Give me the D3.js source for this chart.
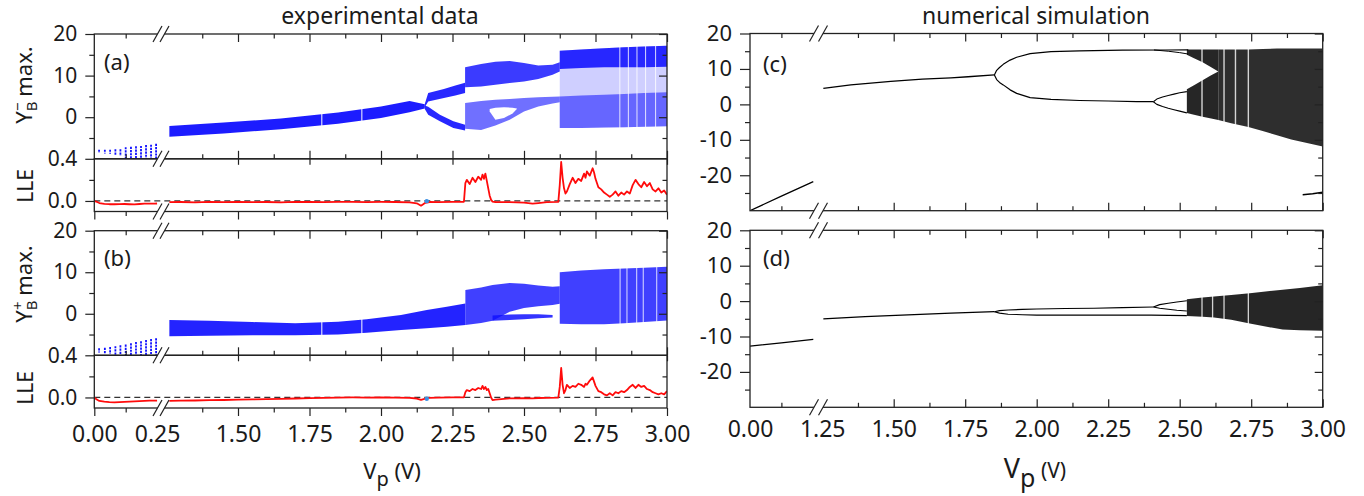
<!DOCTYPE html>
<html>
<head>
<meta charset="utf-8">
<script src="https://cdn.jsdelivr.net/npm/d3@7"></script>
<style>
  body { margin: 0; background: #fff; }
  svg text { font-family: "Noto Sans", "Open Sans", sans-serif; fill: #1a1a1a; }
</style>
</head>
<body>
<script>
// ---------- data ----------
// experimental, left segment: vertical point stacks
const dashV = [0.019, 0.042, 0.063, 0.084, 0.104, 0.125, 0.146, 0.166, 0.186, 0.206, 0.226, 0.246];
const aDashTop = [-7.8, -7.8, -7.8, -7.7, -7.7, -7.2, -7.1, -7.0, -6.9, -6.7, -6.6, -6.4];
const aDashBot = [-8.6, -8.7, -8.8, -9.0, -9.3, -10, -10, -10, -10, -10, -10, -10];
const bDashTop = [-8.3, -8.2, -8.0, -7.8, -7.6, -7.4, -7.1, -6.8, -6.6, -6.3, -6.1, -5.9];
const bDashBot = [-9.3, -9.5, -9.7, -10, -10, -10, -10, -10, -10, -10, -10, -10];

// (a) Y_B- max. bands
const aV1 = [1.26, 1.45, 1.65, 1.85, 2.00, 2.10, 2.153];
const aLo1 = [-4.7, -3.9, -2.9, -1.6, -0.2, 1.2, 2.1];
const aHi1 = [-2.1, -1.3, -0.3, 1.1, 2.6, 3.9, 3.1];
const aUpV = [2.153, 2.165, 2.22, 2.26, 2.294];
const aUpLo = [2.4, 3.8, 4.6, 5.2, 5.8];
const aUpHi = [3.2, 5.8, 6.8, 7.6, 8.3];
const aLowV = [2.153, 2.165, 2.206, 2.253, 2.294];
const aLowLo = [2.0, 0.6, -1.0, -2.6, -3.2];
const aLowHi = [2.8, 2.5, 0.6, -1.0, -1.8];
const aCloudV = [2.294, 2.35, 2.40, 2.45, 2.50, 2.55, 2.60, 2.625];
const aCloud1Top = [12.0, 12.8, 13.3, 13.5, 13.0, 12.4, 12.6, 13.2];
const aCloud1Bot = [7.2, 7.4, 7.8, 8.2, 8.6, 9.2, 10.2, 11.0];
const aCloud2Top = [3.4, 3.9, 4.2, 4.4, 4.6, 4.8, 4.9, 5.0];
const aCloud2Bot = [-2.8, -3.1, -2.0, -0.6, 1.4, 2.6, 3.3, 3.6];
const aHoleV = [2.38, 2.40, 2.43, 2.46, 2.475];
const aHoleLo = [1.4, -0.6, -0.2, 0.9, 2.0];
const aHoleHi = [2.0, 2.3, 2.4, 2.3, 2.1];
const aChaosV = [2.625, 2.70, 2.78, 2.85, 2.92, 3.00];
const aChaosTop = [16.0, 16.3, 16.6, 16.8, 17.0, 17.2];
const aChaosBandLo = [11.6, 11.8, 12.0, 12.0, 12.0, 12.1];
const aChaosBandHi = [5.0, 5.2, 5.4, 5.6, 5.8, 6.0];
const aChaosBot = [-2.6, -2.6, -2.5, -2.4, -2.3, -2.2];
const aWindows = [2.835, 2.865, 2.895, 2.925, 2.96];

// (b) Y_B+ max. bands
const bV1 = [1.26, 1.40, 1.55, 1.70, 1.85, 1.95, 2.07, 2.16, 2.23, 2.295];
const bLo1 = [-5.4, -5.3, -5.2, -5.2, -5.0, -4.6, -3.9, -3.5, -3.1, -2.7];
const bHi1 = [-1.5, -1.7, -2.0, -2.3, -1.9, -1.3, -0.3, 0.9, 1.7, 2.5];
const bUpV = [2.295, 2.35, 2.39, 2.45, 2.50, 2.55, 2.60, 2.625];
const bUpTop = [5.7, 6.3, 6.9, 7.4, 7.2, 6.8, 6.5, 6.6];
const bUpBot = [-2.7, -2.2, -1.7, 0.5, 1.4, 1.8, 2.1, 2.4];
const bLowV = [2.39, 2.45, 2.50, 2.55, 2.60];
const bLowLo = [-1.7, -1.5, -1.3, -1.1, -0.9];
const bLowHi = [-0.4, -0.2, -0.1, -0.1, -0.3];
const bChaosV = [2.625, 2.70, 2.78, 2.85, 2.92, 3.00];
const bChaosTop = [10.0, 10.4, 10.7, 10.9, 11.1, 11.3];
const bChaosBot = [-2.4, -2.5, -2.5, -2.3, -2.0, -1.6];
const bWindows = [2.836, 2.86, 2.894, 2.917, 2.964];
const expGaps = [1.793, 1.933];

// LLE curves
const lleLeftV = [0, 0.01, 0.02, 0.04, 0.06, 0.08, 0.10, 0.12, 0.14, 0.16, 0.18, 0.20, 0.22, 0.24, 0.25];
const lleALeft = [0.0, -0.008, -0.02, -0.027, -0.031, -0.031, -0.03, -0.029, -0.031, -0.032, -0.029, -0.026, -0.025, -0.025, -0.024];
const lleBLeft = [0.0, -0.02, -0.033, -0.04, -0.045, -0.046, -0.044, -0.042, -0.04, -0.038, -0.035, -0.032, -0.03, -0.03, -0.03];
const lleV = [1.26, 1.30, 1.35, 1.40, 1.45, 1.50, 1.55, 1.60, 1.65, 1.70, 1.75, 1.80, 1.85, 1.90, 1.95, 2.00, 2.05, 2.10, 2.125, 2.14, 2.155, 2.17, 2.20, 2.25, 2.29,
  2.295, 2.30, 2.31, 2.32, 2.33, 2.34, 2.35, 2.355, 2.36, 2.365, 2.37, 2.375, 2.38, 2.385, 2.39, 2.40, 2.45, 2.50, 2.53, 2.55, 2.58, 2.62,
  2.625, 2.63, 2.635, 2.64, 2.645, 2.65, 2.66, 2.67, 2.68, 2.69, 2.70, 2.71, 2.715, 2.72, 2.73, 2.74, 2.745, 2.75,
  2.76, 2.77, 2.78, 2.79, 2.80, 2.81, 2.82, 2.83, 2.84, 2.85, 2.86, 2.87, 2.88, 2.89, 2.90, 2.91, 2.92, 2.93, 2.94, 2.95, 2.96, 2.97, 2.98, 2.99, 3.00];
const lleA = [-0.012, -0.010, -0.013, -0.009, -0.011, -0.008, -0.012, -0.010, -0.013, -0.009, -0.010, -0.012, -0.009, -0.008, -0.011, -0.009, -0.010, -0.013, -0.022, -0.045, -0.018, -0.010, -0.012, -0.009, -0.008,
  0.17, 0.20, 0.16, 0.22, 0.18, 0.23, 0.20, 0.25, 0.21, 0.26, 0.19, 0.12, 0.05, 0.01, -0.006, -0.010, -0.012, -0.016, -0.026, -0.02, -0.012, -0.008,
  0.15, 0.37, 0.22, 0.12, 0.07, 0.09, 0.16, 0.22, 0.17, 0.21, 0.19, 0.26, 0.22, 0.28, 0.24, 0.31, 0.27, 0.21,
  0.13, 0.11, 0.08, 0.06, 0.04, 0.06, 0.09, 0.05, 0.08, 0.06, 0.09, 0.07, 0.15, 0.20, 0.16, 0.13, 0.18, 0.14, 0.17, 0.11, 0.09, 0.12, 0.08, 0.10, 0.06];
const lleB = [-0.032, -0.030, -0.029, -0.026, -0.024, -0.021, -0.019, -0.016, -0.013, -0.010, -0.006, -0.004, -0.002, 0.000, -0.001, 0.001, -0.002, -0.004, -0.010, -0.022, -0.012, -0.004, -0.001, 0.000, 0.001,
  0.05, 0.07, 0.06, 0.08, 0.07, 0.09, 0.08, 0.11, 0.08, 0.10, 0.07, 0.08, 0.04, 0.0, -0.025, -0.02, -0.008, -0.006, -0.008, -0.005, -0.004, -0.002,
  0.10, 0.28, 0.12, 0.04, 0.07, 0.12, 0.09, 0.11, 0.10, 0.13, 0.12, 0.10, 0.13, 0.12, 0.16, 0.19, 0.15, 0.11,
  0.06, 0.05, 0.03, 0.02, 0.04, 0.02, 0.05, 0.04, 0.06, 0.05, 0.07, 0.10, 0.12, 0.09, 0.12, 0.10, 0.11, 0.08, 0.07, 0.05, 0.04, 0.03, 0.04, 0.03, 0.06];
const lleDotV = 2.16, lleDotA = -0.002, lleDotB = -0.012;

// (c) simulation Y_B- max.
const cLeftV = [0, 0.125, 0.252];
const cLeftY = [-30, -25.9, -21.8];
const cMainV = [1.254, 1.35, 1.49, 1.60, 1.70, 1.76, 1.852];
const cMainY = [4.5, 5.5, 6.5, 7.1, 7.5, 7.8, 8.3];
const cUpV = [1.852, 1.86, 1.87, 1.883, 1.907, 1.93, 1.977, 2.05, 2.15, 2.30, 2.45, 2.53];
const cUpY = [8.3, 9.6, 10.4, 11.3, 12.5, 13.3, 14.3, 14.9, 15.1, 15.3, 15.35, 15.4];
const cLoV = [1.852, 1.86, 1.87, 1.883, 1.907, 1.93, 1.977, 2.05, 2.15, 2.25, 2.35, 2.408];
const cLoY = [8.3, 7.0, 6.2, 5.5, 4.1, 3.1, 1.9, 1.4, 1.1, 0.95, 0.8, 0.75];
const cLensV = [2.408, 2.42, 2.44, 2.46, 2.48, 2.50, 2.525];
const cLensHi = [0.75, 1.5, 2.1, 2.5, 2.9, 3.3, 3.6];
const cLensLo = [0.75, 0.0, -0.6, -1.1, -1.5, -1.9, -2.4];
const cUp2V = [2.41, 2.46, 2.50, 2.53];
const cUp2Y = [15.35, 15.0, 14.6, 14.2];
const cSplitV = [2.525, 2.55, 2.58, 2.61, 2.635];
const cSplitATop = [15.5, 15.5, 15.5, 15.5, 15.5];
const cSplitABot = [14.0, 13.0, 11.9, 10.5, 9.3];
const cSplitBTop = [4.3, 5.4, 6.8, 8.2, 9.3];
const cSplitBBot = [-2.4, -2.9, -3.5, -4.0, -4.4];
const cChaosV = [2.635, 2.68, 2.74, 2.79, 2.84, 2.89, 2.945, 3.0];
const cChaosTop = [15.5, 15.5, 15.5, 15.6, 15.8, 15.8, 15.8, 15.8];
const cChaosBot = [-4.4, -5.3, -6.4, -7.5, -8.7, -9.9, -10.9, -11.9];
const cTailV = [2.93, 2.965, 3.0];
const cTailY = [-25.5, -25.2, -24.8];
const cWindows = [2.578, 2.655, 2.695, 2.74];

// (d) simulation Y_B+ max.
const dLeftV = [0, 0.125, 0.252];
const dLeftY = [-12.7, -11.8, -10.8];
const dMainV = [1.254, 1.40, 1.55, 1.70, 1.852];
const dMainY = [-5.0, -4.4, -3.9, -3.4, -3.0];
const dUpV = [1.852, 1.87, 1.90, 1.95, 2.00, 2.10, 2.20, 2.30, 2.408];
const dUpY = [-3.0, -2.7, -2.5, -2.35, -2.25, -2.1, -2.0, -1.85, -1.65];
const dLoV = [1.852, 1.87, 1.90, 1.95, 2.00, 2.20, 2.40, 2.525];
const dLoY = [-3.0, -3.4, -3.7, -3.85, -3.95, -3.95, -3.95, -4.1];
const dLensV = [2.408, 2.43, 2.46, 2.49, 2.525];
const dLensHi = [-1.65, -1.0, -0.6, -0.25, 0.1];
const dLensLo = [-1.65, -2.0, -2.3, -2.6, -2.8];
const dChaosV = [2.525, 2.58, 2.62, 2.68, 2.745, 2.80, 2.86, 2.92, 3.0];
const dChaosTop = [0.5, 1.0, 1.3, 1.7, 2.2, 2.7, 3.2, 3.7, 4.5];
const dChaosBot = [-4.2, -4.4, -4.6, -5.3, -6.3, -7.2, -8.0, -8.2, -8.4];
const dWindows = [2.578, 2.615, 2.655, 2.74];

// ticks
const yTicks = [20, 10, 0];
const yMinor = [15, 5, -5];
const simYTicks = [20, 10, 0, -10, -20];
const simYMinor = [15, 5, -5, -15, -25];
const lleTicks = [0.4, 0.0];
const lleMinor = [0.2];
const xMajor = [1.5, 1.75, 2.0, 2.25, 2.5, 2.75, 3.0];
const xMinor = [1.375, 1.625, 1.875, 2.125, 2.375, 2.625, 2.875];
const expLabelsLeft = [0, 0.25];
const simLabelsRight = [1.25, 1.5, 1.75, 2.0, 2.25, 2.5, 2.75, 3.0];

// ---------- drawing ----------
const W = 1364, H = 496;
const BLUE = '#1010ff', RED = '#ff0b0b', INK = '#222';
const svg = d3.select('body').append('svg').attr('width', W).attr('height', H);
const defs = svg.append('defs');

const xExp = [d3.scaleLinear([0, 0.27], [94.3, 162.1]), d3.scaleLinear([1.25, 3], [166.5, 667])];
const xSim = [d3.scaleLinear([0, 0.27], [750, 817.8]), d3.scaleLinear([1.25, 3], [822.2, 1322.7])];
const px = (xs, v) => (v < 1 ? xs[0](v) : xs[1](v));

const yA = d3.scaleLinear([-10, 20], [158.8, 34]);
const lA = d3.scaleLinear([-0.1, 0.4], [211.5, 158.8]);
const yB = d3.scaleLinear([-10, 20], [355.3, 230.7]);
const lB = d3.scaleLinear([-0.1, 0.4], [408, 355.3]);
const yC = d3.scaleLinear([-30, 20], [210.7, 33.5]);
const yD = d3.scaleLinear([-30, 20], [407.3, 230.3]);

function panel(id, xs, y) {
  const x0 = xs[0].range()[0], x1 = xs[1].range()[1];
  const [yb, yt] = y.range();
  defs.append('clipPath').attr('id', id).append('rect')
    .attr('x', x0).attr('y', yt).attr('width', x1 - x0).attr('height', yb - yt);
  return svg.append('g').attr('clip-path', `url(#${id})`);
}

function band(g, xs, y, V, lo, hi, fill, op) {
  g.append('path')
    .datum(V.map((v, i) => [v, lo[i], hi[i]]))
    .attr('d', d3.area().x(d => px(xs, d[0])).y0(d => y(d[1])).y1(d => y(d[2])))
    .attr('fill', fill)
    .attr('fill-opacity', op);
}

function curve(g, xs, y, V, Y, stroke, w) {
  g.append('path')
    .datum(V.map((v, i) => [v, Y[i]]))
    .attr('d', d3.line().x(d => px(xs, d[0])).y(d => y(d[1])))
    .attr('fill', 'none')
    .attr('stroke', stroke)
    .attr('stroke-width', w)
    .attr('stroke-linejoin', 'round');
}

function stripes(g, xs, y, V, lo, hi, w, op) {
  g.selectAll(null).data(V).enter().append('line')
    .attr('x1', d => px(xs, d)).attr('x2', d => px(xs, d))
    .attr('y1', y(lo)).attr('y2', y(hi))
    .attr('stroke', '#fff').attr('stroke-width', w).attr('stroke-opacity', op);
}

function stacks(g, xs, y, V, top, bot) {
  g.selectAll(null).data(V).enter().append('line')
    .attr('x1', d => px(xs, d)).attr('x2', d => px(xs, d))
    .attr('y1', (d, i) => y(top[i])).attr('y2', (d, i) => y(bot[i]))
    .attr('stroke', BLUE).attr('stroke-width', 1.8).attr('stroke-dasharray', '2.2,1');
}

// ----- (a)
const gA = panel('ca', xExp, yA);
stacks(gA, xExp, yA, dashV, aDashTop, aDashBot);
band(gA, xExp, yA, aV1, aLo1, aHi1, BLUE, 0.95);
band(gA, xExp, yA, aUpV, aUpLo, aUpHi, BLUE, 0.9);
band(gA, xExp, yA, aLowV, aLowLo, aLowHi, BLUE, 0.9);
band(gA, xExp, yA, aCloudV, aCloud1Bot, aCloud1Top, BLUE, 0.82);
band(gA, xExp, yA, aCloudV, aCloud2Bot, aCloud2Top, BLUE, 0.6);
band(gA, xExp, yA, aHoleV, aHoleLo, aHoleHi, '#fff', 1);
band(gA, xExp, yA, aChaosV, aChaosBot, aChaosTop, BLUE, 0.2);
band(gA, xExp, yA, aChaosV, aChaosBandLo, aChaosTop, BLUE, 0.88);
band(gA, xExp, yA, aChaosV, aChaosBot, aChaosBandHi, BLUE, 0.55);
stripes(gA, xExp, yA, aWindows, -3, 18, 1.1, 0.75);
stripes(gA, xExp, yA, expGaps, -6, 5, 1.1, 0.9);

// ----- (b)
const gB = panel('cb', xExp, yB);
stacks(gB, xExp, yB, dashV, bDashTop, bDashBot);
band(gB, xExp, yB, bV1, bLo1, bHi1, BLUE, 0.92);
band(gB, xExp, yB, bUpV, bUpBot, bUpTop, BLUE, 0.8);
band(gB, xExp, yB, bLowV, bLowLo, bLowHi, BLUE, 0.85);
band(gB, xExp, yB, bChaosV, bChaosBot, bChaosTop, BLUE, 0.8);
stripes(gB, xExp, yB, bWindows, -3, 12, 1.1, 0.75);
stripes(gB, xExp, yB, expGaps, -6, 1, 1.1, 0.9);

// ----- LLE (a),(b)
function llePanel(id, y, left, right, dotY) {
  const g = panel(id, xExp, y);
  g.append('line')
    .attr('x1', xExp[0](0)).attr('x2', xExp[1](3))
    .attr('y1', y(0)).attr('y2', y(0))
    .attr('stroke', '#333').attr('stroke-width', 1.2).attr('stroke-dasharray', '6,4');
  curve(g, xExp, y, lleLeftV, left, RED, 1.8);
  curve(g, xExp, y, lleV, right, RED, 1.8);
  g.append('circle').attr('cx', px(xExp, lleDotV)).attr('cy', y(dotY)).attr('r', 2.2).attr('fill', '#3b8fe3');
}
llePanel('cla', lA, lleALeft, lleA, lleDotA);
llePanel('clb', lB, lleBLeft, lleB, lleDotB);

// ----- (c)
const gC = panel('cc', xSim, yC);
curve(gC, xSim, yC, cLeftV, cLeftY, '#000', 1.3);
curve(gC, xSim, yC, cMainV, cMainY, '#000', 1.3);
curve(gC, xSim, yC, cUpV, cUpY, '#000', 1.2);
curve(gC, xSim, yC, cLoV, cLoY, '#000', 1.2);
curve(gC, xSim, yC, cLensV, cLensHi, '#000', 1.1);
curve(gC, xSim, yC, cLensV, cLensLo, '#000', 1.1);
curve(gC, xSim, yC, cUp2V, cUp2Y, '#000', 1);
band(gC, xSim, yC, cSplitV, cSplitABot, cSplitATop, '#000', 0.85);
band(gC, xSim, yC, cSplitV, cSplitBBot, cSplitBTop, '#000', 0.85);
band(gC, xSim, yC, cChaosV, cChaosBot, cChaosTop, '#000', 0.82);
curve(gC, xSim, yC, cTailV, cTailY, '#000', 1.4);
stripes(gC, xSim, yC, cWindows, -12, 16, 1.4, 0.8);

// ----- (d)
const gD = panel('cd', xSim, yD);
curve(gD, xSim, yD, dLeftV, dLeftY, '#000', 1.3);
curve(gD, xSim, yD, dMainV, dMainY, '#000', 1.3);
curve(gD, xSim, yD, dUpV, dUpY, '#000', 1.1);
curve(gD, xSim, yD, dLoV, dLoY, '#000', 1.1);
curve(gD, xSim, yD, dLensV, dLensHi, '#000', 1.1);
curve(gD, xSim, yD, dLensV, dLensLo, '#000', 1.1);
band(gD, xSim, yD, dChaosV, dChaosBot, dChaosTop, '#000', 0.85);
stripes(gD, xSim, yD, dWindows, -9, 5, 1.3, 0.8);

// ----- frames
function frame(xs, y) {
  const x0 = xs[0].range()[0], x1 = xs[1].range()[1];
  const [yb, yt] = y.range();
  svg.append('rect').attr('x', x0).attr('y', yt).attr('width', x1 - x0).attr('height', yb - yt)
    .attr('fill', 'none').attr('stroke', INK).attr('stroke-width', 1.3);
}
[[xExp, yA], [xExp, lA], [xExp, yB], [xExp, lB], [xSim, yC], [xSim, yD]].forEach(p => frame(p[0], p[1]));

// ----- ticks
function tickSet(gen, scale, vals, size, tr) {
  const g = svg.append('g').attr('transform', tr)
    .call(gen(scale).tickValues(vals).tickSize(size).tickFormat(''));
  g.select('.domain').remove();
  g.selectAll('line').attr('stroke', INK).attr('stroke-width', 1.2);
}
function labelSet(gen, scale, vals, pad, fmt, fs, tr) {
  const g = svg.append('g').attr('transform', tr)
    .call(gen(scale).tickValues(vals).tickSize(0).tickPadding(pad).tickFormat(fmt));
  g.select('.domain').remove();
  g.selectAll('line').remove();
  g.attr('font-size', fs).attr('color', '#1a1a1a');
}

function xTicks(xs, yPos, gen, major, minor, seg0Major) {
  tickSet(gen, xs[1], xMajor, major, `translate(0,${yPos})`);
  tickSet(gen, xs[1], xMinor, minor, `translate(0,${yPos})`);
  tickSet(gen, xs[0], [0.125], minor, `translate(0,${yPos})`);
  if (seg0Major) tickSet(gen, xs[0], [0], major, `translate(0,${yPos})`);
}

// experimental chart
[[yA, lA], [yB, lB]].forEach(([y, l]) => {
  const top = y.range()[1], mid = y.range()[0], bot = l.range()[0];
  xTicks(xExp, top, d3.axisTop, -8, -4.5, false);
  xTicks(xExp, mid, d3.axisBottom, -8, -4.5, false);
  tickSet(d3.axisTop, xExp[1], xMajor, -6, `translate(0,${mid})`);
  xTicks(xExp, bot, d3.axisBottom, 8, 4.5, true);
  tickSet(d3.axisLeft, y, yTicks, 9, 'translate(94.3,0)');
  tickSet(d3.axisLeft, y, yMinor, 5, 'translate(94.3,0)');
  tickSet(d3.axisLeft, l, lleTicks, 9, 'translate(94.3,0)');
  tickSet(d3.axisLeft, l, lleMinor, 5, 'translate(94.3,0)');
  tickSet(d3.axisRight, y, yTicks, -8, 'translate(667,0)');
  tickSet(d3.axisRight, y, yMinor, -4.5, 'translate(667,0)');
  tickSet(d3.axisRight, l, lleMinor, -4.5, 'translate(667,0)');
  labelSet(d3.axisLeft, y, yTicks, 17, d => String(d), 21, 'translate(94.3,0)');
  labelSet(d3.axisLeft, l, lleTicks, 17, d3.format('.1f'), 21, 'translate(94.3,0)');
});
labelSet(d3.axisBottom, xExp[0], expLabelsLeft, 18, d3.format('.2f'), 23, 'translate(0,408)');
labelSet(d3.axisBottom, xExp[1], xMajor, 18, d3.format('.2f'), 23, 'translate(0,408)');

// simulation chart
[yC, yD].forEach(y => {
  const top = y.range()[1], bot = y.range()[0];
  xTicks(xSim, top, d3.axisTop, -8, -4.5, false);
  xTicks(xSim, bot, d3.axisBottom, -8, -4.5, false);
  tickSet(d3.axisLeft, y, simYTicks, 10, 'translate(750,0)');
  tickSet(d3.axisLeft, y, simYMinor, 5, 'translate(750,0)');
  tickSet(d3.axisRight, y, simYTicks, -8, 'translate(1322.7,0)');
  tickSet(d3.axisRight, y, simYMinor, -4.5, 'translate(1322.7,0)');
  labelSet(d3.axisLeft, y, simYTicks, 18, d => String(d), 22, 'translate(750,0)');
});
labelSet(d3.axisBottom, xSim[0], [0], 13, d3.format('.2f'), 23, 'translate(0,407.3)');
labelSet(d3.axisBottom, xSim[1], simLabelsRight, 13, d3.format('.2f'), 23, 'translate(0,407.3)');

// ----- axis breaks
function brk(c1, c2, y) {
  svg.append('path')
    .attr('d', `M${c1 - 1.3},${y + 2.6}L${c1 + 1.3},${y - 2.6}L${c2 + 1.3},${y - 2.6}L${c2 - 1.3},${y + 2.6}Z`)
    .attr('fill', '#fff');
  [c1, c2].forEach(c => svg.append('line')
    .attr('x1', c - 4.5).attr('y1', y + 8).attr('x2', c + 4.5).attr('y2', y - 8)
    .attr('stroke', INK).attr('stroke-width', 1.2));
}
[34, 158.8, 211.5, 230.7, 355.3, 408].forEach(y => brk(157.5, 164.5, y));
[33.5, 210.7, 230.3, 407.3].forEach(y => brk(814, 823, y));

// ----- texts
svg.append('text').attr('x', 380).attr('y', 24).attr('text-anchor', 'middle').attr('font-size', 23).text('experimental data');
svg.append('text').attr('x', 1036).attr('y', 24).attr('text-anchor', 'middle').attr('font-size', 23).text('numerical simulation');

[['(a)', 104, 70], ['(b)', 104, 266], ['(c)', 763, 72], ['(d)', 763, 266]].forEach(d =>
  svg.append('text').attr('x', d[1]).attr('y', d[2]).attr('font-size', 22).text(d[0]));

function yTitle(x, y, sign) {
  const t = svg.append('text').attr('transform', `translate(${x},${y}) rotate(-90)`)
    .attr('text-anchor', 'middle').attr('font-size', 22);
  t.append('tspan').text('Y');
  t.append('tspan').attr('font-size', 15).attr('dy', 5).text('B');
  t.append('tspan').attr('font-size', 15).attr('dx', -9.5).attr('dy', -14).text(sign);
  t.append('tspan').attr('dy', 9).text(' max.');
}
function lleTitle(x, y) {
  svg.append('text').attr('transform', `translate(${x},${y}) rotate(-90)`)
    .attr('text-anchor', 'middle').attr('font-size', 21).text('LLE');
}
yTitle(32, 85, '\u2212');
lleTitle(33, 186);
yTitle(32, 284, '+');
lleTitle(33, 388);

function xTitle(x, y, fsV, fsP, fsU) {
  const t = svg.append('text').attr('x', x).attr('y', y).attr('text-anchor', 'middle');
  t.append('tspan').attr('font-size', fsV).text('V');
  t.append('tspan').attr('font-size', fsP).attr('dy', fsP * 0.35).text('p');
  t.append('tspan').attr('font-size', fsU).attr('dy', -fsP * 0.35).text(' (V)');
}
xTitle(392, 479, 22, 20, 22);
xTitle(1035, 478, 27, 25, 21);
</script>
</body>
</html>
